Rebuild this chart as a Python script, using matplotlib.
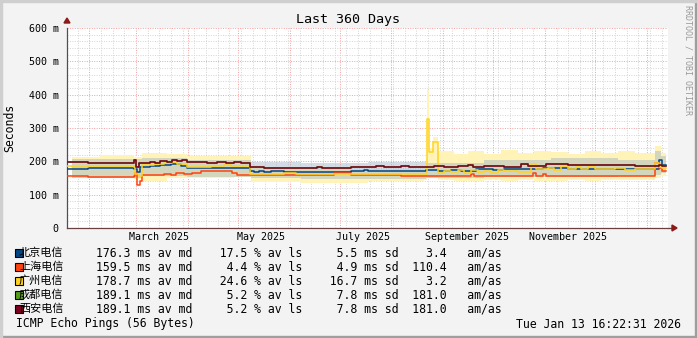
import datetime as dt
import matplotlib
matplotlib.use("Agg")
import matplotlib.pyplot as plt
import matplotlib.dates as mdates
from matplotlib.patches import Rectangle, Polygon
from matplotlib.ticker import MultipleLocator

# --------------------
# Data (day offsets from graph start, values in ms)
# --------------------
start = dt.datetime(2025, 1, 18, 16, 22, 31)
end = dt.datetime(2026, 1, 13, 16, 22, 31)

names = ["北京电信", "上海电信", "广州电信", "成都电信", "西安电信"]
colors = ["#004586", "#ff420e", "#ffd320", "#579d1c", "#7e0021"]
avg_md = [176.3, 159.5, 178.7, 189.1, 189.1]
avg_ls = [17.5, 4.4, 24.6, 5.2, 5.2]
avg_sd = [5.5, 4.9, 16.7, 7.8, 7.8]
am_as = [3.4, 110.4, 3.2, 181.0, 181.0]

bj_days = [0, 12.6, 40.1, 42, 44, 50, 56, 62, 68, 72, 109.6, 112, 115, 118, 122, 130,
           170, 178, 180, 215, 222, 230, 236, 245, 255, 262, 270, 285, 300, 330, 352.5,
           354.5, 356.5, 358.7]
bj_ms = [176, 179, 176, 168, 184, 186, 189, 191, 186, 179, 172, 168, 172, 167, 170, 169,
         171, 174, 171, 174, 171, 175, 170, 177, 174, 178, 176, 179, 177, 178, 176,
         204, 190, 190]

sh_days = [0, 3, 12.6, 40.1, 41, 42, 43.5, 45, 55, 58, 62, 65, 70, 75, 80, 99, 102,
           150, 160, 170, 200, 219, 240, 242, 244, 265, 279, 281, 285, 287, 300, 320,
           350, 352.5, 354.5, 356.5, 358.7]
sh_ms = [156, 155, 153, 157, 165, 130, 140, 158, 160, 163, 160, 164, 162, 166, 170, 165, 159,
         160, 164, 159, 157, 155, 157, 163, 156, 155, 164, 157, 162, 157, 156, 157,
         156, 194, 179, 172, 172]

gz_days = [0, 3, 12.6, 40.1, 41, 43, 45, 52, 58, 63, 66, 72, 86, 94, 98, 109.6, 130, 134,
           137, 152, 155, 215.5, 217, 219.5, 222, 226, 230, 234, 238, 242, 246, 250, 254,
           258, 262, 270, 278, 281, 288, 292, 296, 300, 305, 308, 312, 316, 322, 328, 334,
           340, 348, 352.5, 354.5, 356.5, 358.7]
gz_ms = [187, 184, 187, 183, 162, 155, 190, 191, 194, 197, 193, 184, 186, 190, 186, 161, 164,
         166, 161, 163, 161, 326, 229, 259, 166, 172, 168, 174, 165, 175, 168, 170, 165,
         174, 170, 167, 192, 176, 180, 173, 185, 178, 184, 176, 183, 177, 176, 180, 174,
         176, 178, 194, 183, 180, 180]

xa_days = [0, 12.6, 40.1, 41.5, 43, 50, 53, 56, 60, 63, 66, 69, 72, 80, 84, 90, 95, 100,
           104, 109.6, 118, 150, 153, 170, 178, 185, 190, 200, 205, 212, 220, 226, 234,
           240, 243, 250, 262, 272, 276, 282, 287, 300, 320, 340, 350, 354.5, 356.5, 358.7]
xa_ms = [197, 194, 204, 182, 196, 198, 196, 201, 199, 203, 200, 205, 197, 199, 196, 198, 196,
         198, 195, 182, 180, 184, 180, 184, 182, 186, 183, 186, 182, 184, 186, 183, 186,
         190, 184, 187, 184, 191, 187, 186, 191, 188, 189, 187, 186, 190, 186, 186]

# smoke bands (light blue = 北京电信, pale yellow = 广州电信)
bj_band_days = [3, 40, 45, 72, 110, 140, 180, 215, 250, 290, 330, 352, 356, 358.7]
bj_band_lo = [150, 150, 155, 152, 150, 148, 146, 150, 153, 152, 155, 160, 165, 165]
bj_band_hi = [206, 206, 210, 205, 199, 196, 198, 196, 205, 210, 205, 232, 215, 215]

gz_band_days = [3, 20, 40, 45, 60, 72, 100, 110, 140, 180, 214, 215.5, 217, 219.5, 222,
                232, 240, 250, 260, 270, 280, 290, 300, 310, 320, 330, 340, 352, 356, 358.7]
gz_band_lo = [150, 152, 148, 140, 150, 150, 152, 138, 135, 140, 145, 150, 150, 150, 145,
              140, 142, 145, 140, 145, 142, 140, 145, 140, 143, 145, 145, 150, 155, 155]
gz_band_hi = [212, 218, 212, 225, 222, 215, 215, 180, 176, 178, 180, 414, 240, 272, 232,
              222, 230, 222, 235, 225, 232, 228, 222, 232, 226, 230, 225, 245, 225, 225]

W, H = 697, 338


def to_dates(days):
    return [start + dt.timedelta(days=d) for d in days]


def fx(x):
    return x / W


def fy(y):
    return 1 - y / H


MONO = "DejaVu Sans Mono"

fig = plt.figure(figsize=(W / 100, H / 100), dpi=100)
fig.patch.set_facecolor("#f3f3f3")

# 3D-ish border like rrdtool
fig.add_artist(Rectangle((0, 0), 1, 2 / H, transform=fig.transFigure, color="#9e9e9e"))
fig.add_artist(Rectangle((1 - 2 / W, 0), 2 / W, 1, transform=fig.transFigure, color="#9e9e9e"))
fig.add_artist(Rectangle((0, 1 - 2 / H), 1, 2 / H, transform=fig.transFigure, color="#cfcfcf"))
fig.add_artist(Rectangle((0, 0), 2 / W, 1, transform=fig.transFigure, color="#cfcfcf"))

ax = fig.add_axes([fx(67), fy(228), (668 - 67) / W, 200 / H])
ax.set_facecolor("white")
ax.set_xlim(start, end)
ax.set_ylim(0, 600)

# --------------------
# Grid
# --------------------
ax.xaxis.set_major_locator(mdates.MonthLocator())
ax.xaxis.set_minor_locator(mdates.WeekdayLocator(byweekday=mdates.SA))
ax.yaxis.set_major_locator(MultipleLocator(100))
ax.yaxis.set_minor_locator(MultipleLocator(20))
ax.grid(which="minor", color="#d4d4d4", linestyle=(0, (1, 1.5)), linewidth=0.7)
ax.grid(which="major", color="#f2a0a0", linestyle=(0, (1, 1.5)), linewidth=0.7)
ax.set_axisbelow(True)
ax.tick_params(which="both", length=0, labelbottom=False)
ax.set_yticks(range(0, 601, 100))
ax.set_yticklabels([f"{v} m" if v else "0" for v in range(0, 601, 100)],
                   fontsize=7.2, family=MONO)
ax.tick_params(axis="y", pad=6)

for s in ["top", "right"]:
    ax.spines[s].set_visible(False)
ax.spines["left"].set_color("#505050")
ax.spines["bottom"].set_color("#6a4040")
ax.spines["left"].set_linewidth(0.9)
ax.spines["bottom"].set_linewidth(0.9)

# --------------------
# Smoke + lines
# --------------------
ax.fill_between(to_dates(gz_band_days), gz_band_lo, gz_band_hi, step="post",
                color="#fff3b8", lw=0, zorder=2)
ax.fill_between(to_dates(bj_band_days), bj_band_lo, bj_band_hi, step="post",
                color="#9fb2c4", alpha=0.45, lw=0, zorder=2)

series = [
    (bj_days, bj_ms, colors[0]),
    (sh_days, sh_ms, colors[1]),
    (gz_days, gz_ms, colors[2]),
    (xa_days, xa_ms, colors[3]),  # 成都电信 identical to 西安电信, hidden below it
    (xa_days, xa_ms, colors[4]),
]
for days, ms, c in series:
    ax.plot(to_dates(days), ms, drawstyle="steps-post", color=c, lw=1.1, zorder=3)

# month labels (centered mid-month)
for d in mdates.MonthLocator(bymonth=[3, 5, 7, 9, 11], bymonthday=15).tick_values(start, end):
    ax.text(d, -9 * 3, mdates.num2date(d).strftime("%B %Y"), ha="center", va="center",
            fontsize=7.2, family=MONO, clip_on=False)

# axis arrows
fig.add_artist(Polygon([[fx(64), fy(23)], [fx(70), fy(23)], [fx(67), fy(18)]],
                       closed=True, transform=fig.transFigure, color="#8b1a1a"))
fig.add_artist(Polygon([[fx(668), fy(228)], [fx(674), fy(228)]], closed=False,
                       transform=fig.transFigure, color="#6a4040", lw=0.9))
fig.add_artist(Polygon([[fx(672), fy(225)], [fx(672), fy(231)], [fx(677), fy(228)]],
                       closed=True, transform=fig.transFigure, color="#8b1a1a"))

# --------------------
# Titles
# --------------------
fig.text(fx(348), fy(19), "Last 360 Days", ha="center", va="center", fontsize=9.6, family=MONO)
fig.text(fx(10), fy(128), "Seconds", ha="center", va="center", rotation=90,
         fontsize=8.3, family=MONO)
fig.text(fx(688), fy(5), "RRDTOOL / TOBI OETIKER", ha="center", va="top", rotation=270,
         fontsize=6, family=MONO, color="#9a9a9a")

# --------------------
# Legend
# --------------------
row_y = [253, 267, 281, 295, 309]
for i, name in enumerate(names):
    y = row_y[i]
    fig.text(fx(19), fy(y), name, ha="left", va="center", fontsize=8,
             family=["Noto Sans CJK SC", "DejaVu Sans"])
    fig.add_artist(Rectangle((fx(15), fy(y + 4)), 8 / W, 8 / H, transform=fig.transFigure,
                             facecolor=colors[i], edgecolor="black", lw=0.8))
    stats = (f"{avg_md[i]:5.1f} ms av md{'':4}{avg_ls[i]:4.1f} % av ls{'':4}"
             f"{avg_sd[i]:4.1f} ms sd  {am_as[i]:5.1f}   am/as")
    fig.text(fx(96), fy(y), stats, ha="left", va="center", fontsize=8.3, family=MONO)

fig.text(fx(16), fy(324), "ICMP Echo Pings (56 Bytes)", ha="left", va="center",
         fontsize=8.3, family=MONO)
fig.text(fx(681), fy(324), end.strftime("%a %b %d %H:%M:%S %Y"), ha="right", va="center",
         fontsize=8.3, family=MONO)

fig.savefig("out.png", dpi=100, facecolor=fig.get_facecolor())
